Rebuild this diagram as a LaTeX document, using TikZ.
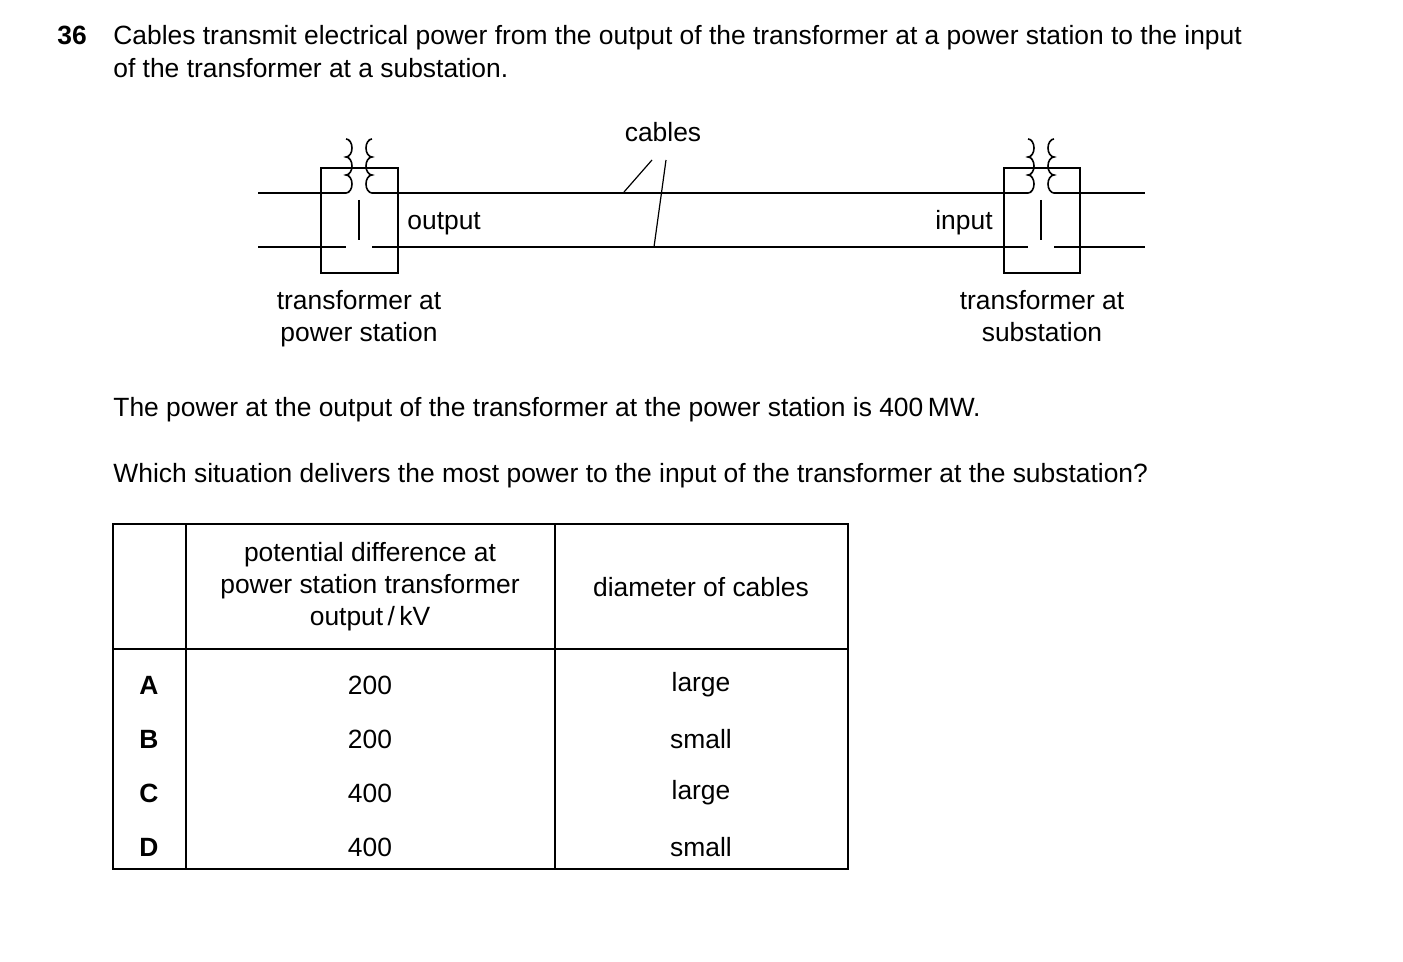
\documentclass[tikz,border=0pt]{standalone}
\usepackage{fontspec}
\setmainfont{Liberation Sans}
\usetikzlibrary{positioning}
\tikzset{
  txt/.style={inner sep=0pt,font=\fontsize{13.2}{16}\selectfont},
  wire/.style={draw,line width=0.8pt},
  grid/.style={draw,line width=0.7pt}
}
\newcommand{\coilR}[2]{% bumps to the right
  \draw[wire] (#1,#2) arc (90:-90:6 and 9) arc (90:-90:6 and 9) arc (90:-90:6 and 9);}
\newcommand{\coilL}[2]{% bumps to the left
  \draw[wire] (#1,#2) arc (90:270:6 and 9) arc (90:270:6 and 9) arc (90:270:6 and 9);}
\begin{document}
\begin{tikzpicture}[x=0.5pt,y=-0.5pt]
\useasboundingbox (0,0) rectangle (1403,962);
% question text
\node[txt,anchor=base west] (num) at (57,45) {\textbf{36}};
\node[txt,anchor=base west] (q1) at (113,45) {Cables transmit electrical power from the output of the transformer at a power station to the input};
\node[txt,anchor=base west] (q2) at (113,78) {of the transformer at a substation.};
% transformers
\node[draw,line width=0.9pt,minimum width=38.5pt,minimum height=52.5pt,inner sep=0pt] (tA) at (359.5,220.5) {};
\node[draw,line width=0.9pt,minimum width=38pt,minimum height=52.5pt,inner sep=0pt] (tB) at (1042,220.5) {};
\coordinate (a1) at (258,193); \coordinate (a2) at (258,247);
\coordinate (b1) at (1145,193); \coordinate (b2) at (1145,247);
\draw[wire] (a1) -- (346,193); \draw[wire] (a2) -- (346,247);
\coilR{346}{193}
\draw[wire] (359,200) -- (359,240);
\coilL{372}{193}
\draw[wire] (372,193) -- (tB.west |- 0,193);
\draw[wire] (372,247) -- (tB.west |- 0,247);
\draw[wire] (tB.west |- 0,193) -- (1028,193); \draw[wire] (tB.west |- 0,247) -- (1028,247);
\coilR{1028}{193}
\draw[wire] (1041,200) -- (1041,240);
\coilL{1054}{193}
\draw[wire] (1054,193) -- (b1); \draw[wire] (1054,247) -- (b2);
% labels
\node[txt,anchor=base west] (out) at (407,230) {output};
\node[txt,anchor=base east] (in) at (993,230) {input};
\node[txt,anchor=base] (cab) at (663,142) {cables};
\coordinate (c1) at (624,192); \coordinate (c2) at (654,247);
\draw[line width=0.6pt] (c1) -- (652,160);
\draw[line width=0.6pt] (c2) -- (666,160);
\node[txt,align=center,anchor=north] (lA) at (359,290) {transformer at\\power station};
\node[txt,align=center,anchor=north] (lB) at (1042,290) {transformer at\\substation};
\node[txt,anchor=base west] (p1) at (113,417) {The power at the output of the transformer at the power station is 400\,MW.};
\node[txt,anchor=base west] (p2) at (113,483) {Which situation delivers the most power to the input of the transformer at the substation?};
% table
\draw[grid] (113,524) rectangle (848,869);
\draw[grid] (113,649) -- (848,649);
\draw[grid] (186,524) -- (186,869);
\draw[grid] (555,524) -- (555,869);
\node[txt,align=center] (h1) at (370,587) {potential difference at\\power station transformer\\output\,/\,kV};
\node[txt] (h2) at (701,587) {diameter of cables};
\foreach \y/\l/\v/\d in {685/A/200/large, 739/B/200/small, 793/C/400/large, 847/D/400/small}{
  \node[txt] (r\l) at (149,\y) {\textbf{\l}};
  \node[txt] (v\l) at (370,\y) {\v};
  \node[txt] (d\l) at (701,\y) {\d};
}
\end{tikzpicture}
\end{document}
